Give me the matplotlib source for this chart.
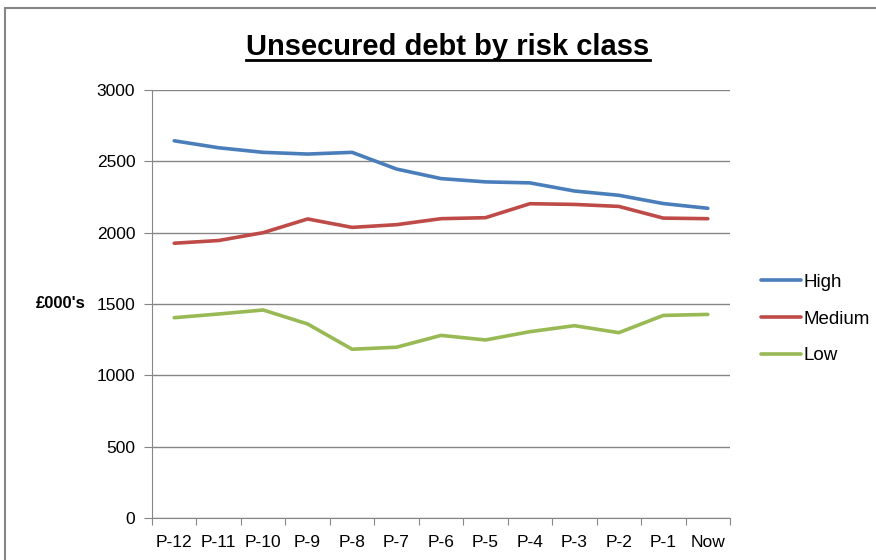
import numpy as np
import matplotlib.pyplot as plt
from matplotlib.lines import Line2D
from matplotlib.patches import Rectangle

plt.rcParams['font.family'] = ['Liberation Sans', 'DejaVu Sans']

periods = ["P-12", "P-11", "P-10", "P-9", "P-8", "P-7", "P-6",
           "P-5", "P-4", "P-3", "P-2", "P-1", "Now"]
high = [2644, 2595, 2563, 2551, 2563, 2446, 2379, 2356, 2349, 2292, 2262, 2204, 2171]
medium = [1926, 1945, 2000, 2096, 2037, 2056, 2098, 2105, 2203, 2198, 2184, 2102, 2098]
low = [1404, 1430, 1458, 1360, 1183, 1197, 1280, 1248, 1306, 1348, 1299, 1420, 1427]

series = [("High", high, "#4A7EBB"), ("Medium", medium, "#BE4B48"), ("Low", low, "#98B954")]

fig = plt.figure(figsize=(8.76, 5.6), dpi=100)
ax = fig.add_axes([152/876, 42/560, 578/876, 428/560])

x = np.arange(len(periods))
for name, vals, col in series:
    ax.plot(x, vals, color=col, lw=2.6, label=name, solid_capstyle="round")

ax.set_xlim(-0.5, len(periods) - 0.5)
ax.set_ylim(0, 3000)
ax.set_yticks(np.arange(0, 3001, 500))
ax.yaxis.grid(True, color="#868686", lw=1)
ax.set_axisbelow(True)

# category boundaries carry the ticks, labels sit in the middle
ax.set_xticks(np.arange(-0.5, len(periods), 1))
ax.set_xticklabels([])
ax.set_xticks(x, minor=True)
ax.set_xticklabels(periods, minor=True, fontsize=12.5)
ax.tick_params(axis="x", which="major", length=5, color="#868686", direction="out")
ax.tick_params(axis="x", which="minor", length=0, pad=12)
ax.tick_params(axis="y", length=6, color="#868686", labelsize=12.5, pad=6)

for s in ["top", "right"]:
    ax.spines[s].set_visible(False)
for s in ["left", "bottom"]:
    ax.spines[s].set_color("#868686")

# y axis title
fig.text(61/876, 1 - 304/560, "£000's", ha="center", va="center",
         fontsize=12, fontweight="bold")

# legend
leg = ax.legend(loc="center left", bbox_to_anchor=(1.025, 0.465), frameon=False,
                handlelength=2.1, handletextpad=0.15, labelspacing=1.05,
                prop={'size': 13.5})

# title with underline
title = fig.text(448/876, 1 - 47/560, "Unsecured debt by risk class", ha="center", va="center",
                 fontsize=21, fontweight="bold")
fig.canvas.draw()
bb = title.get_window_extent().transformed(fig.transFigure.inverted())
fig.add_artist(Line2D([bb.x0, bb.x1], [bb.y0 + 0.002, bb.y0 + 0.002],
                      transform=fig.transFigure, color="black", lw=2))

# chart frame
fig.add_artist(Rectangle((5/876, -0.05), 1.0, 1 - 8/560 + 0.05, transform=fig.transFigure,
                         fill=False, edgecolor="#868686", lw=1.5))

fig.savefig("out.png", dpi=100)
